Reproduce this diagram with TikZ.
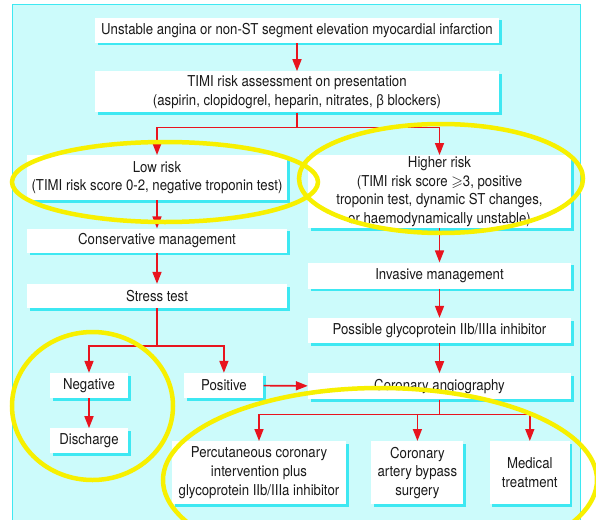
\documentclass[tikz,border=0pt]{standalone}
\usepackage{fontspec}
\usepackage{amssymb}
\setmainfont{TeX Gyre Heros}[FakeStretch=0.88]
\newfontfamily\greekfont{Liberation Sans}[FakeStretch=0.88]
\usepackage{xcolor}
\usepackage{tikz}
\usetikzlibrary{arrows.meta,positioning,shadows}
\definecolor{panelcyan}{HTML}{CCFBFB}
\definecolor{rimcyan}{HTML}{3EE8F2}
\definecolor{flowred}{HTML}{E8141E}
\definecolor{markyellow}{HTML}{F7F000}
\definecolor{inkgray}{HTML}{1A1A1A}

\begin{document}
\begin{tikzpicture}[
    x=1pt,y=1pt,
    font=\fontsize{15}{18.6}\selectfont,
    flowbox/.style={fill=white,text=inkgray,align=center,inner xsep=2pt,inner ysep=0.5pt,
      drop shadow={shadow xshift=2.5pt,shadow yshift=-2.5pt,fill=rimcyan,opacity=1}},
    widebox/.style={flowbox,minimum width=404pt},
    leftbox/.style={flowbox,minimum width=260pt},
    rightbox/.style={flowbox,minimum width=263pt},
    smallbox/.style={flowbox,minimum width=78pt,minimum height=25pt},
    treatbox/.style={flowbox,minimum height=63pt,anchor=north},
    arrow/.style={-{Triangle[length=12pt,width=9pt]},line width=1.6pt,draw=flowred},
    redline/.style={line width=1.6pt,draw=flowred},
    ring/.style={draw=markyellow,line width=4.5pt}
  ]
    \useasboundingbox (0,0) rectangle (596,-519);
    \clip (0,0) rectangle (596,-519);
    \fill[white] (0,0) rectangle (596,-519);
    \draw[fill=panelcyan,draw=rimcyan,line width=1pt] (12,-5) rectangle (580,-530);

    \node[widebox,minimum height=25pt] (init) at (297,-30.5) {Unstable angina or non-ST segment elevation myocardial infarction};
    \node[widebox,minimum height=41pt,below=28pt of init] (timi) {TIMI risk assessment on presentation\\(aspirin, clopidogrel, heparin, nitrates, {\greekfont β} blockers)};

    \node[leftbox,minimum height=45pt,anchor=north] (low) at (157,-155) {Low risk\\(TIMI risk score 0-2, negative troponin test)};
    \node[leftbox,minimum height=24pt,below=28pt of low] (cons) {Conservative management};
    \node[leftbox,minimum height=24pt,below=31pt of cons] (stress) {Stress test};
    \node[smallbox] (neg) at (89,-385.5) {Negative};
    \node[smallbox,below=30pt of neg] (dis) {Discharge};
    \node[smallbox,minimum width=79pt,right=56pt of neg] (pos) {Positive};

    \node[rightbox,minimum height=73pt,anchor=north] (high) at (439.5,-155) {Higher risk\\(TIMI risk score $\geqslant$3, positive\\troponin test, dynamic ST changes,\\or haemodynamically unstable)};
    \node[rightbox,minimum height=26pt,below=34pt of high] (inv) {Invasive management};
    \node[rightbox,minimum height=25pt,below=29pt of inv] (gly) {Possible glycoprotein IIb/IIIa inhibitor};
    \node[rightbox,minimum height=26pt,below=30pt of gly] (ang) {Coronary angiography};

    \node[treatbox,minimum width=174pt] (pci) at (259,-441) {Percutaneous coronary\\intervention plus\\glycoprotein IIb/IIIa inhibitor};
    \node[treatbox,minimum width=92pt,right=25pt of pci] (cabg) {Coronary\\artery bypass\\surgery};
    \node[treatbox,minimum width=80pt,right=26pt of cabg] (med) {Medical\\treatment};

    \draw[arrow] (init) -- (timi);
    \draw[redline] (timi.south) -- ++(0,-15) coordinate (risksplit);
    \draw[arrow] (risksplit) -| (low);
    \draw[arrow] (risksplit) -| (high);
    \draw[arrow] (low) -- (cons);
    \draw[arrow] (cons) -- (stress);
    \draw[redline] (stress.south) -- ++(0,-38) coordinate (testsplit);
    \draw[arrow] (testsplit) -| (neg);
    \draw[arrow] (testsplit) -| (pos);
    \draw[arrow] (neg) -- (dis);
    \draw[arrow] (pos) -- (ang);
    \draw[arrow] (high) -- (inv);
    \draw[arrow] (inv) -- (gly);
    \draw[arrow] (gly) -- (ang);
    \draw[redline] (ang.south) -- ++(0,-15) coordinate (treatsplit);
    \draw[arrow] (treatsplit) -| (pci);
    \draw[arrow] (treatsplit) -| (cabg);
    \draw[arrow] (treatsplit) -| (med);

    \draw[ring] (165,-182) ellipse [x radius=153pt,y radius=40pt];
    \draw[ring] (441,-178.5) ellipse [x radius=142pt,y radius=54.5pt];
    \draw[ring] (92.5,-406) ellipse [x radius=80.5pt,y radius=74pt];
    \draw[ring] (380,-480) ellipse [x radius=217pt,y radius=92pt];
  \end{tikzpicture}
\end{document}
